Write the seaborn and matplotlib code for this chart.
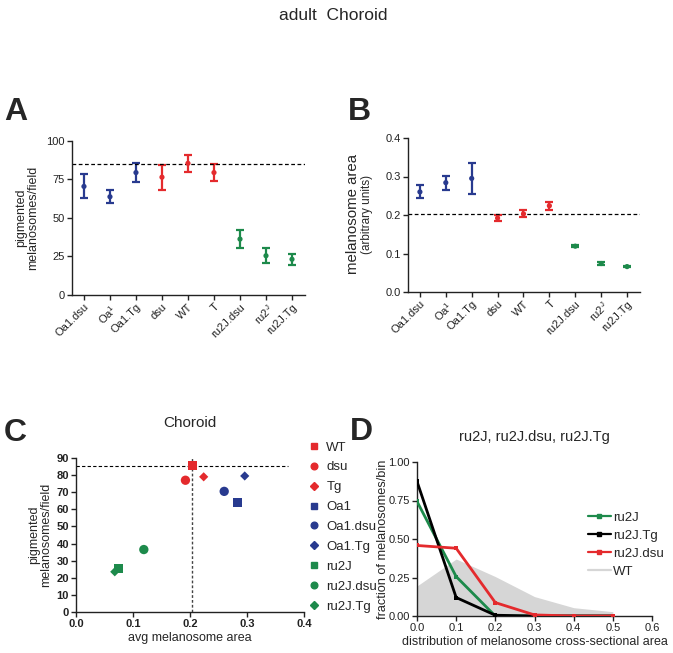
import numpy as np
import pandas as pd
import matplotlib
matplotlib.use("Agg")
import matplotlib.pyplot as plt
from matplotlib.lines import Line2D
import seaborn as sns

sns.set_theme(style="ticks")
plt.rcParams['font.family'] = ['Liberation Sans', 'DejaVu Sans']
plt.rcParams['mathtext.fontset'] = 'custom'
plt.rcParams['mathtext.rm'] = 'Liberation Sans'
plt.rcParams['mathtext.it'] = 'Liberation Sans'

# ---------------- data ----------------
categories = ["Oa1.dsu", "Oa1", "Oa1.Tg", "dsu", "WT", "T", "ru2J.dsu", "ru2J", "ru2J.Tg"]
tick_labels = ["Oa1.dsu", r"Oa$^{1}$", "Oa1.Tg", "dsu", "WT", "T", "ru2J.dsu", r"ru2$^{J}$", "ru2J.Tg"]
cat_group = ["Oa1", "Oa1", "Oa1", "wt", "wt", "wt", "ru2J", "ru2J", "ru2J"]

count_mean = [70.5, 63.8, 79.5, 76.5, 85.5, 79.5, 36.3, 25.5, 23.2]
count_err = [7.8, 4.3, 6.4, 8.0, 5.4, 5.4, 6.0, 4.8, 3.4]
count_ref = 85.0

area_mean = [0.260, 0.284, 0.295, 0.192, 0.203, 0.224, 0.119, 0.074, 0.066]
area_err = [0.017, 0.018, 0.041, 0.007, 0.009, 0.010, 0.003, 0.003, 0.002]
area_ref = 0.203

scatter_labels = ["WT", "dsu", "Tg", "Oa1", "Oa1.dsu", "Oa1.Tg", "ru2J", "ru2J.dsu", "ru2J.Tg"]
scatter_area = [0.204, 0.192, 0.224, 0.283, 0.260, 0.296, 0.075, 0.119, 0.068]
scatter_count = [85.5, 77.0, 79.0, 64.0, 70.5, 79.5, 25.5, 36.5, 23.5]
scatter_ref_count = 85.5
scatter_ref_area = 0.204

bins = [0.0, 0.1, 0.2, 0.3, 0.4, 0.5]
frac_ru2J = [0.744, 0.256, 0.0, 0.0, 0.0, 0.0]
frac_ru2J_Tg = [0.874, 0.120, 0.005, 0.0, 0.0, 0.0]
frac_ru2J_dsu = [0.458, 0.440, 0.087, 0.007, 0.0, 0.0]
frac_WT = [0.195, 0.370, 0.256, 0.126, 0.054, 0.028]

# ---------------- style ----------------
BLUE = "#283a8f"
RED = "#e42a2d"
GREEN = "#1d8a4b"
group_color = {"Oa1": BLUE, "wt": RED, "ru2J": GREEN}
cat_colors = {c: group_color[g] for c, g in zip(categories, cat_group)}

W, H = 673, 653
fig = plt.figure(figsize=(W / 100, H / 100), dpi=100)


def ax_at(l, r, t, b):
    return fig.add_axes([l / W, 1 - b / H, (r - l) / W, (b - t) / H])


def style_ax(ax):
    sns.despine(ax=ax)
    for s in ("left", "bottom"):
        ax.spines[s].set_linewidth(1.0)
        ax.spines[s].set_color("#222222")
    ax.tick_params(direction="out", length=3.5, width=1.0, colors="#222222",
                   labelsize=8, pad=1.5)


fig.text(0.495, 1 - 15 / H, "adult  Choroid", ha="center", va="center", fontsize=12.5)

# ---------------- panel A ----------------
axA = ax_at(72, 305, 141, 295)
dfA = pd.DataFrame({"cat": categories, "mean": count_mean})
sns.scatterplot(data=dfA, x="cat", y="mean", hue="cat", palette=cat_colors, s=14,
                edgecolor="none", legend=False, ax=axA, zorder=3)
for i, c in enumerate(categories):
    axA.errorbar(i, count_mean[i], yerr=count_err[i], color=cat_colors[c], lw=1.6,
                 capsize=3, capthick=1.6, fmt="none", zorder=2)
axA.axhline(count_ref, color="black", ls=(0, (3, 2)), lw=0.9)
axA.set_xlim(-0.46, 8.5)
axA.set_ylim(0, 100)
axA.set_yticks([0, 25, 50, 75, 100])
axA.set_xticks(range(len(categories)))
axA.set_xticklabels(tick_labels, rotation=45, ha="right", rotation_mode="anchor")
axA.set_xlabel("")
axA.set_ylabel("pigmented\nmelanosomes/field", fontsize=9, linespacing=1.05, labelpad=5)
style_ax(axA)
fig.text(4 / W, 1 - 112 / H, "A", fontsize=23, fontweight="bold", va="center", ha="left")

# ---------------- panel B ----------------
axB = ax_at(408, 640, 138, 292)
dfB = pd.DataFrame({"cat": categories, "mean": area_mean})
sns.scatterplot(data=dfB, x="cat", y="mean", hue="cat", palette=cat_colors, s=14,
                edgecolor="none", legend=False, ax=axB, zorder=3)
for i, c in enumerate(categories):
    axB.errorbar(i, area_mean[i], yerr=area_err[i], color=cat_colors[c], lw=1.6,
                 capsize=3, capthick=1.6, fmt="none", zorder=2)
axB.axhline(area_ref, color="black", ls=(0, (3, 2)), lw=0.9)
axB.set_xlim(-0.46, 8.5)
axB.set_ylim(0, 0.4)
axB.set_yticks([0.0, 0.1, 0.2, 0.3, 0.4])
axB.set_yticklabels(["0.0", "0.1", "0.2", "0.3", "0.4"])
axB.set_xticks(range(len(categories)))
axB.set_xticklabels(tick_labels, rotation=45, ha="right", rotation_mode="anchor")
axB.set_xlabel("")
axB.set_ylabel("")
style_ax(axB)
fig.text(353 / W, 1 - 214 / H, "melanosome area", rotation=90, fontsize=10.8,
         ha="center", va="center")
fig.text(367 / W, 1 - 214 / H, "(arbitrary units)", rotation=90, fontsize=8.5,
         ha="center", va="center")
fig.text(348 / W, 1 - 112 / H, "B", fontsize=23, fontweight="bold", va="center", ha="left")

# ---------------- panel C ----------------
axC = ax_at(76, 304, 458, 612)
sc_colors = [RED, RED, RED, BLUE, BLUE, BLUE, GREEN, GREEN, GREEN]
sc_markers = ["s", "o", "D", "s", "o", "D", "s", "o", "D"]
sc_sizes = [40, 45, 22, 40, 45, 22, 40, 45, 22]
dfC = pd.DataFrame({"name": scatter_labels, "area": scatter_area, "count": scatter_count})
sns.scatterplot(data=dfC, x="area", y="count", hue="name", style="name",
                palette=dict(zip(scatter_labels, sc_colors)),
                markers=dict(zip(scatter_labels, sc_markers)),
                size="name", sizes=dict(zip(scatter_labels, sc_sizes)),
                edgecolor="none", legend=False, ax=axC, zorder=3)
axC.hlines(scatter_ref_count, 0, 0.372, color="black", ls=(0, (3, 2)), lw=0.8)
axC.axvline(scatter_ref_area, color="#444444", ls=(0, (2, 1.5)), lw=1.0)
axC.set_xlim(0, 0.4)
axC.set_ylim(0, 90)
axC.set_xticks([0.0, 0.1, 0.2, 0.3, 0.4])
axC.set_yticks(range(0, 91, 10))
axC.set_xticklabels(["0.0", "0.1", "0.2", "0.3", "0.4"])
axC.set_xlabel("avg melanosome area", fontsize=9, labelpad=2)
axC.set_ylabel("pigmented\nmelanosomes/field", fontsize=9, linespacing=1.05, labelpad=3)
axC.set_title("Choroid", fontsize=11, pad=22)
style_ax(axC)
for lab in axC.get_xticklabels() + axC.get_yticklabels():
    lab.set_fontweight("bold")
handles = [Line2D([], [], ls="none", marker=m, color=c, markersize=ms)
           for m, c, ms in zip(sc_markers, sc_colors, [4.3, 4.8, 3.6] * 3)]
axC.legend(handles, scatter_labels, loc="upper left", bbox_to_anchor=(302 / W, 1 - 436 / H),
           bbox_transform=fig.transFigure, frameon=False, fontsize=9.5,
           handlelength=1.0, handletextpad=0.45, labelspacing=0.58, borderaxespad=0)
fig.text(4 / W, 1 - 433 / H, "C", fontsize=23, fontweight="bold", va="center", ha="left")

# ---------------- panel D ----------------
axD = ax_at(417, 652, 462, 616)
axD.fill_between(bins, 0, frac_WT, color="#d6d6d6", lw=0, zorder=1)
dfD = pd.DataFrame({
    "bin": bins * 3,
    "frac": frac_ru2J + frac_ru2J_Tg + frac_ru2J_dsu,
    "genotype": ["ru2J"] * 6 + ["ru2J.Tg"] * 6 + ["ru2J.dsu"] * 6,
})
line_pal = {"ru2J": GREEN, "ru2J.Tg": "black", "ru2J.dsu": RED}
sns.lineplot(data=dfD, x="bin", y="frac", hue="genotype", palette=line_pal,
             marker="s", markersize=3.5, markeredgewidth=0, lw=2.0, legend=False,
             ax=axD, zorder=3)
axD.set_xlim(0, 0.6)
axD.set_ylim(0, 1.0)
axD.set_xticks([0.0, 0.1, 0.2, 0.3, 0.4, 0.5, 0.6])
axD.set_xticklabels(["0.0", "0.1", "0.2", "0.3", "0.4", "0.5", "0.6"])
axD.set_yticks([0.0, 0.25, 0.5, 0.75, 1.0])
axD.set_yticklabels(["0.00", "0.25", "0.50", "0.75", "1.00"])
axD.set_xlabel("distribution of melanosome cross-sectional area", fontsize=9, labelpad=2)
axD.set_ylabel("fraction of melanosomes/bin", fontsize=9.2, labelpad=0)
axD.set_title("ru2J, ru2J.dsu, ru2J.Tg", fontsize=10.5, pad=15)
style_ax(axD)
leg_handles = [Line2D([], [], color=GREEN, lw=1.6, marker="s", markersize=2.5),
               Line2D([], [], color="black", lw=1.6, marker="s", markersize=2.5),
               Line2D([], [], color=RED, lw=1.6, marker="s", markersize=2.5),
               Line2D([], [], color="#d6d6d6", lw=1.6)]
axD.legend(leg_handles, ["ru2J", "ru2J.Tg", "ru2J.dsu", "WT"], loc="upper left",
           bbox_to_anchor=(583 / W, 1 - 506 / H), bbox_transform=fig.transFigure,
           frameon=False, fontsize=9.5, handlelength=1.7, handletextpad=0.2,
           labelspacing=0.45, borderaxespad=0)
fig.text(350 / W, 1 - 432 / H, "D", fontsize=23, fontweight="bold", va="center", ha="left")

fig.savefig("out.png", dpi=100)
